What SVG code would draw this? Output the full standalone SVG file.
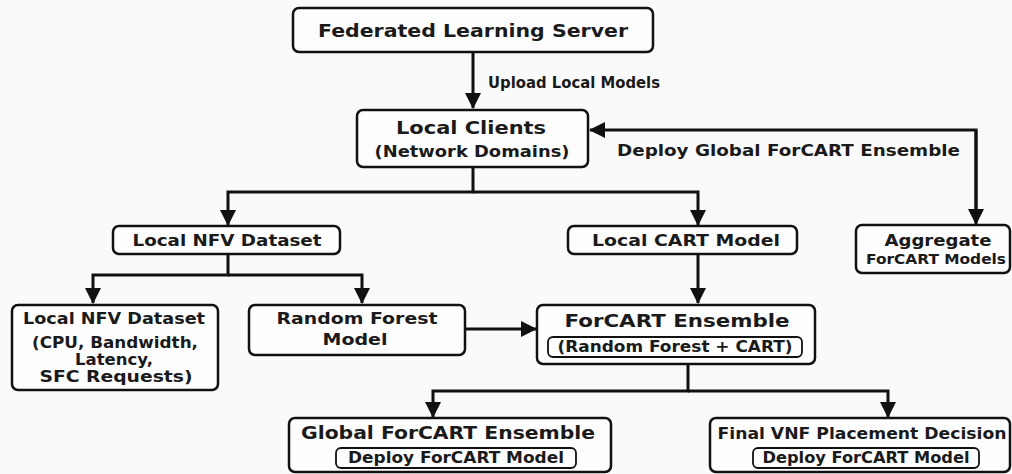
<svg xmlns="http://www.w3.org/2000/svg" width="1012" height="474" viewBox="0 0 1012 474">
<style>
.box{fill:#fdfdfd;stroke:#111;stroke-width:2.5}
.inner{fill:#fdfdfd;stroke:#111;stroke-width:1.8}
.ln{fill:none;stroke:#111;stroke-width:3}
text{font-family:"DejaVu Sans","Liberation Sans",sans-serif;font-weight:bold;fill:#1a1a1a;text-anchor:middle;dominant-baseline:central}
.lbl{text-anchor:start}
</style>
<defs>
<marker id="ah" markerUnits="userSpaceOnUse" markerWidth="16" markerHeight="16" viewBox="0 0 16 16" refX="15" refY="8" orient="auto">
<path d="M0,0 L16,8 L0,16 Z" fill="#111"/>
</marker>
</defs>
<rect width="1012" height="474" fill="#fafafa"/>
<g id="connectors">
<line class="ln" x1="473" y1="52" x2="473" y2="108" marker-end="url(#ah)"/>
<polyline class="ln" points="976,222 976,130 590,130" marker-end="url(#ah)"/>
<line class="ln" x1="976" y1="130" x2="976" y2="224" marker-end="url(#ah)"/>
<polyline class="ln" points="473,167 473,192 228,192 228,225" marker-end="url(#ah)"/>
<polyline class="ln" points="473,192 698,192 698,225" marker-end="url(#ah)"/>
<polyline class="ln" points="228,254 228,275 93,275 93,303" marker-end="url(#ah)"/>
<polyline class="ln" points="228,275 362,275 362,303" marker-end="url(#ah)"/>
<line class="ln" x1="465" y1="329" x2="536" y2="329" marker-end="url(#ah)"/>
<line class="ln" x1="698" y1="254" x2="698" y2="303" marker-end="url(#ah)"/>
<polyline class="ln" points="688,364 688,391 433,391 433,417" marker-end="url(#ah)"/>
<polyline class="ln" points="688,391 888,391 888,417" marker-end="url(#ah)"/>
<text class="lbl" x="488" y="83" font-size="15.5" textLength="172" lengthAdjust="spacingAndGlyphs">Upload Local Models</text>
<text class="lbl" x="617" y="150" font-size="16" textLength="343" lengthAdjust="spacingAndGlyphs">Deploy Global ForCART Ensemble</text>
</g>
<g id="server">
<rect class="box" x="293" y="8" width="360" height="44" rx="6"/>
<text x="473" y="30" font-size="18" textLength="310" lengthAdjust="spacingAndGlyphs">Federated Learning Server</text>
</g>
<g id="clients">
<rect class="box" x="357" y="110" width="231" height="57" rx="6"/>
<text x="471" y="127" font-size="18" textLength="150" lengthAdjust="spacingAndGlyphs">Local Clients</text>
<text x="472" y="152" font-size="15.5" textLength="195" lengthAdjust="spacingAndGlyphs">(Network Domains)</text>
</g>
<g id="aggregate">
<rect class="box" x="856" y="225" width="154" height="48" rx="6"/>
<text x="938" y="240" font-size="16" textLength="107" lengthAdjust="spacingAndGlyphs">Aggregate</text>
<text x="936" y="259" font-size="13.5" textLength="140" lengthAdjust="spacingAndGlyphs">ForCART Models</text>
</g>
<g id="nfv">
<rect class="box" x="113" y="226" width="227" height="28" rx="6"/>
<text x="227" y="240" font-size="16" textLength="189" lengthAdjust="spacingAndGlyphs">Local NFV Dataset</text>
</g>
<g id="cart">
<rect class="box" x="568" y="226" width="229" height="28" rx="6"/>
<text x="686" y="240" font-size="16" textLength="188" lengthAdjust="spacingAndGlyphs">Local CART Model</text>
</g>
<g id="nfv-detail">
<rect class="box" x="12" y="305" width="206" height="85" rx="6"/>
<text x="114" y="319" font-size="15" textLength="182" lengthAdjust="spacingAndGlyphs">Local NFV Dataset</text>
<text x="115" y="343" font-size="15" textLength="166" lengthAdjust="spacingAndGlyphs">(CPU, Bandwidth,</text>
<text x="114" y="360" font-size="15" textLength="78" lengthAdjust="spacingAndGlyphs">Latency,</text>
<text x="116" y="377" font-size="15" textLength="153" lengthAdjust="spacingAndGlyphs">SFC Requests)</text>
</g>
<g id="rf">
<rect class="box" x="249" y="305" width="216" height="50" rx="6"/>
<text x="357" y="318" font-size="16.5" textLength="161" lengthAdjust="spacingAndGlyphs">Random Forest</text>
<text x="355" y="339" font-size="16.5" textLength="65" lengthAdjust="spacingAndGlyphs">Model</text>
</g>
<g id="forcart">
<rect class="box" x="537" y="305" width="278" height="59" rx="6"/>
<text x="677" y="320" font-size="18" textLength="225" lengthAdjust="spacingAndGlyphs">ForCART Ensemble</text>
<rect class="inner" x="548" y="337" width="254" height="20" rx="5"/>
<text x="675" y="347" font-size="15" textLength="235" lengthAdjust="spacingAndGlyphs">(Random Forest + CART)</text>
</g>
<g id="global">
<rect class="box" x="289" y="418" width="322" height="54" rx="6"/>
<text x="448" y="433" font-size="17" textLength="294" lengthAdjust="spacingAndGlyphs">Global ForCART Ensemble</text>
<rect class="inner" x="336" y="448" width="240" height="20" rx="5"/>
<text x="456" y="458" font-size="15" textLength="216" lengthAdjust="spacingAndGlyphs">Deploy ForCART Model</text>
</g>
<g id="final">
<rect class="box" x="710" y="418" width="300" height="54" rx="6"/>
<text x="862" y="433" font-size="16.5" textLength="289" lengthAdjust="spacingAndGlyphs">Final VNF Placement Decision</text>
<rect class="inner" x="753" y="448" width="226" height="20" rx="5"/>
<text x="866" y="458" font-size="15" textLength="207" lengthAdjust="spacingAndGlyphs">Deploy ForCART Model</text>
</g>
</svg>
